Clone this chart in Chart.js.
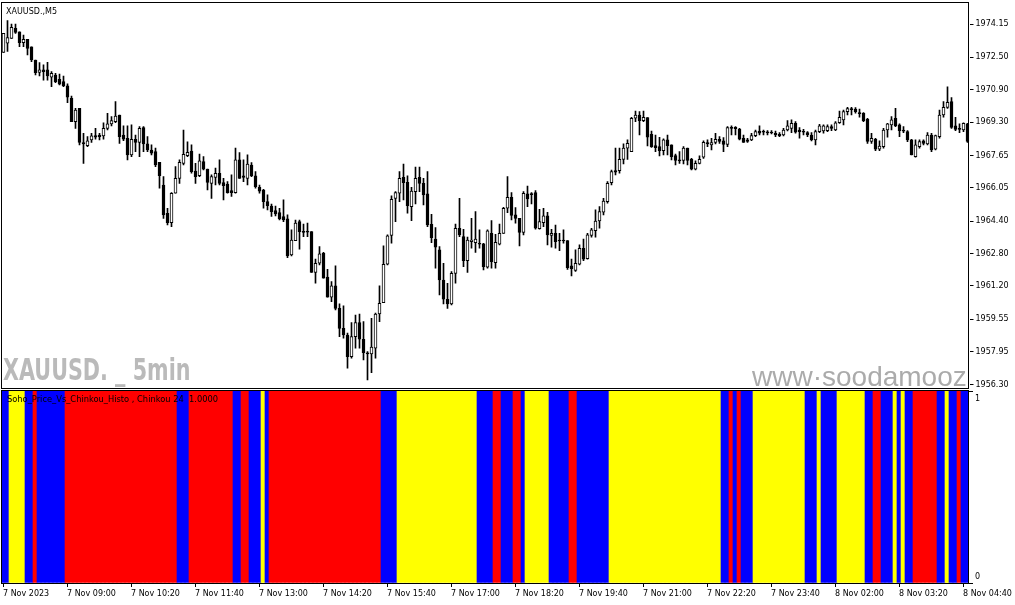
<!DOCTYPE html>
<html>
<head>
<meta charset="utf-8">
<script src="https://cdn.jsdelivr.net/npm/chart.js@4.4.0/dist/chart.umd.min.js"></script>
<style>
  html, body { margin: 0; padding: 0; background: #fff; }
  #wrap { position: relative; width: 1015px; height: 605px; overflow: hidden; background: #fff; }
  #priceChart { position: absolute; left: 0; top: 0; }
  #histoChart { position: absolute; left: 0; top: 389px; }
</style>
</head>
<body>
<div id="wrap">
  <canvas id="priceChart" width="1015" height="390"></canvas>
  <canvas id="histoChart" width="1015" height="216"></canvas>
</div>
<script>
// XAUUSD M5, 7 Nov 07:40 -> 8 Nov 04:45 (242 bars)
const opens = [
  1972.75, 1973.20, 1973.44, 1973.94, 1973.76, 1973.23, 1973.39, 1973.02, 1972.37, 1971.76,
  1971.88, 1971.88, 1971.52, 1971.63, 1971.42, 1971.30, 1971.09, 1970.48, 1969.32, 1969.98,
  1968.29, 1968.14, 1968.42, 1968.63, 1968.66, 1968.62, 1968.99, 1969.21, 1969.32, 1969.65,
  1968.66, 1968.50, 1967.68, 1968.45, 1968.29, 1969.03, 1968.22, 1967.92, 1967.84, 1967.31,
  1966.19, 1964.79, 1964.33, 1965.78, 1966.52, 1967.26, 1967.64, 1967.87, 1966.88, 1966.65,
  1967.35, 1966.98, 1966.27, 1966.57, 1966.77, 1966.31, 1966.24, 1965.91, 1965.81, 1967.43,
  1966.64, 1966.52, 1967.18, 1966.64, 1966.08, 1965.94, 1965.37, 1965.15, 1964.92, 1964.82,
  1964.63, 1964.51, 1962.73, 1963.44, 1964.38, 1963.88, 1963.87, 1963.88, 1961.86, 1962.32,
  1962.81, 1961.63, 1960.64, 1961.20, 1960.09, 1959.10, 1958.77, 1957.70, 1958.69, 1959.38,
  1958.56, 1957.87, 1957.84, 1958.12, 1959.81, 1960.37, 1962.27, 1963.70, 1965.53, 1965.78,
  1966.57, 1966.32, 1965.12, 1965.86, 1966.57, 1966.27, 1965.75, 1964.25, 1963.51, 1962.98,
  1961.49, 1960.54, 1960.31, 1961.82, 1964.05, 1963.64, 1962.45, 1963.39, 1963.34, 1963.31,
  1963.28, 1962.12, 1963.80, 1962.35, 1963.26, 1963.80, 1965.04, 1965.58, 1964.71, 1964.54,
  1963.84, 1965.75, 1965.75, 1965.81, 1964.03, 1964.33, 1964.66, 1963.69, 1963.80, 1963.46,
  1963.47, 1963.44, 1962.19, 1961.96, 1962.27, 1963.06, 1962.55, 1963.69, 1963.93, 1964.41,
  1964.84, 1965.37, 1966.31, 1966.90, 1966.90, 1967.46, 1968.01, 1967.84, 1969.49, 1969.65,
  1969.37, 1969.52, 1968.70, 1968.14, 1968.09, 1967.89, 1968.42, 1968.17, 1967.64, 1967.43,
  1967.40, 1968.01, 1967.46, 1966.97, 1967.26, 1967.56, 1968.29, 1968.17, 1968.29, 1968.45,
  1968.37, 1968.20, 1969.04, 1969.04, 1968.96, 1968.50, 1968.42, 1968.42, 1968.63, 1968.86,
  1968.81, 1968.78, 1968.78, 1968.75, 1968.70, 1968.66, 1968.91, 1968.99, 1969.24, 1968.91,
  1968.81, 1968.78, 1968.66, 1968.42, 1968.83, 1968.86, 1968.88, 1969.08, 1968.91, 1969.27,
  1969.41, 1969.82, 1969.97, 1969.95, 1969.77, 1969.74, 1969.44, 1968.34, 1968.45, 1967.96,
  1968.09, 1968.91, 1969.16, 1969.49, 1969.16, 1968.90, 1968.83, 1968.42, 1967.59, 1968.09,
  1968.38, 1968.22, 1968.66, 1967.96, 1968.58, 1969.65, 1970.03, 1970.31, 1969.11, 1968.97,
  1968.91, 1969.21
];
const highs = [
  1973.69, 1974.32, 1974.15, 1974.15, 1973.76, 1973.61, 1973.39, 1973.02, 1972.37, 1972.24,
  1972.13, 1972.26, 1971.80, 1971.71, 1971.68, 1971.58, 1971.19, 1970.59, 1969.98, 1969.98,
  1968.75, 1968.58, 1968.75, 1968.99, 1968.75, 1969.27, 1969.74, 1969.57, 1970.31, 1969.65,
  1969.11, 1969.11, 1969.16, 1968.66, 1969.08, 1969.08, 1968.58, 1968.17, 1968.01, 1967.31,
  1966.60, 1965.04, 1965.81, 1967.10, 1967.43, 1968.91, 1968.33, 1968.17, 1967.26, 1967.72,
  1967.59, 1966.98, 1966.69, 1967.02, 1967.43, 1966.52, 1966.36, 1966.69, 1968.01, 1967.79,
  1967.43, 1967.68, 1967.30, 1966.85, 1966.19, 1965.98, 1965.70, 1965.25, 1965.15, 1965.04,
  1965.45, 1964.71, 1963.97, 1964.46, 1964.46, 1964.26, 1964.30, 1963.88, 1962.52, 1963.14,
  1962.86, 1962.02, 1961.41, 1962.19, 1960.31, 1960.21, 1958.86, 1959.38, 1959.76, 1959.81,
  1959.43, 1957.95, 1959.60, 1959.85, 1961.20, 1963.18, 1963.72, 1965.65, 1965.86, 1966.85,
  1967.23, 1966.64, 1966.08, 1967.07, 1967.07, 1966.52, 1966.85, 1964.74, 1964.08, 1963.14,
  1962.32, 1961.33, 1961.91, 1964.26, 1965.53, 1964.00, 1963.61, 1964.54, 1964.87, 1963.97,
  1963.31, 1963.97, 1964.43, 1963.75, 1964.26, 1965.09, 1966.60, 1965.81, 1965.07, 1964.54,
  1965.86, 1966.14, 1965.81, 1965.91, 1964.99, 1965.04, 1964.84, 1964.00, 1964.21, 1963.80,
  1963.97, 1963.44, 1962.52, 1962.98, 1963.23, 1963.51, 1963.80, 1964.05, 1964.96, 1965.12,
  1965.53, 1966.36, 1966.93, 1968.01, 1968.01, 1968.22, 1968.42, 1969.54, 1969.85, 1969.82,
  1969.85, 1969.52, 1968.86, 1968.66, 1968.55, 1968.47, 1968.66, 1968.17, 1967.72, 1967.84,
  1968.09, 1968.01, 1967.51, 1967.38, 1967.63, 1968.37, 1968.42, 1968.50, 1968.75, 1968.58,
  1968.53, 1969.08, 1969.11, 1969.08, 1968.99, 1968.66, 1968.50, 1968.75, 1968.91, 1969.11,
  1968.91, 1968.88, 1968.88, 1968.86, 1968.78, 1968.99, 1969.37, 1969.41, 1969.32, 1969.03,
  1968.94, 1968.83, 1968.78, 1968.91, 1969.19, 1969.16, 1969.16, 1969.16, 1969.32, 1969.85,
  1969.90, 1970.03, 1970.03, 1970.02, 1969.95, 1969.77, 1969.49, 1968.75, 1968.50, 1968.38,
  1968.99, 1969.24, 1969.57, 1969.98, 1969.21, 1969.08, 1968.88, 1968.45, 1968.42, 1968.42,
  1968.42, 1968.78, 1968.75, 1968.66, 1969.90, 1970.31, 1971.05, 1970.51, 1969.54, 1969.21,
  1969.27, 1969.24
];
const lows = [
  1972.75, 1972.79, 1973.44, 1973.69, 1973.03, 1973.03, 1972.62, 1972.29, 1971.63, 1971.58,
  1971.38, 1971.38, 1971.05, 1971.25, 1971.14, 1971.05, 1970.26, 1969.32, 1968.99, 1968.17,
  1967.26, 1968.09, 1968.29, 1968.45, 1968.42, 1968.45, 1968.91, 1969.11, 1969.27, 1968.25,
  1968.38, 1967.43, 1967.59, 1967.84, 1967.59, 1967.84, 1967.84, 1967.68, 1967.10, 1966.03,
  1964.54, 1964.21, 1964.13, 1965.78, 1966.27, 1967.18, 1967.59, 1966.77, 1966.27, 1966.60,
  1966.93, 1965.94, 1965.53, 1966.19, 1966.19, 1965.45, 1965.78, 1965.62, 1965.78, 1966.52,
  1966.36, 1966.19, 1966.60, 1966.03, 1965.78, 1965.04, 1964.96, 1964.63, 1964.66, 1964.46,
  1964.38, 1962.60, 1962.68, 1963.44, 1963.01, 1963.64, 1963.64, 1961.86, 1961.33, 1962.24,
  1961.58, 1960.64, 1960.42, 1960.01, 1958.69, 1958.61, 1957.13, 1957.62, 1958.12, 1958.12,
  1957.54, 1956.55, 1956.91, 1957.62, 1959.43, 1960.37, 1962.24, 1963.31, 1964.38, 1965.37,
  1965.45, 1964.79, 1964.43, 1965.25, 1965.86, 1965.20, 1964.13, 1963.34, 1962.07, 1960.75,
  1960.31, 1960.09, 1960.26, 1961.33, 1963.64, 1962.15, 1961.86, 1963.06, 1962.85, 1963.06,
  1961.99, 1962.07, 1962.07, 1962.07, 1963.23, 1963.80, 1964.82, 1964.46, 1964.30, 1963.18,
  1963.72, 1965.12, 1965.25, 1964.00, 1964.00, 1964.13, 1963.23, 1963.11, 1963.06, 1962.94,
  1963.31, 1962.02, 1961.69, 1961.91, 1962.24, 1962.45, 1962.52, 1963.61, 1963.61, 1964.05,
  1964.71, 1965.29, 1966.19, 1966.69, 1966.77, 1967.23, 1967.46, 1967.84, 1969.32, 1968.66,
  1969.32, 1968.12, 1968.05, 1967.84, 1967.63, 1967.68, 1967.68, 1967.43, 1967.18, 1967.26,
  1967.23, 1967.18, 1966.93, 1966.93, 1967.23, 1967.51, 1968.09, 1967.92, 1968.22, 1968.25,
  1967.84, 1968.09, 1968.66, 1968.66, 1968.42, 1968.29, 1968.29, 1968.38, 1968.58, 1968.66,
  1968.66, 1968.66, 1968.71, 1968.58, 1968.58, 1968.62, 1968.86, 1968.78, 1968.75, 1968.50,
  1968.66, 1968.58, 1968.37, 1968.17, 1968.78, 1968.75, 1968.83, 1968.88, 1968.88, 1969.24,
  1969.16, 1969.65, 1969.65, 1969.74, 1969.54, 1969.32, 1968.25, 1968.25, 1967.89, 1967.89,
  1968.01, 1968.55, 1968.91, 1969.08, 1968.58, 1968.78, 1968.33, 1967.68, 1967.56, 1968.01,
  1968.17, 1968.17, 1967.84, 1967.92, 1968.50, 1969.54, 1969.98, 1968.99, 1968.88, 1968.78,
  1968.83, 1968.29
];
const closes = [
  1973.69, 1973.48, 1973.99, 1973.74, 1973.23, 1973.39, 1972.95, 1972.37, 1971.75, 1971.88,
  1971.80, 1971.58, 1971.71, 1971.30, 1971.17, 1971.09, 1970.53, 1969.32, 1969.90, 1968.29,
  1968.22, 1968.38, 1968.62, 1968.55, 1968.58, 1968.99, 1969.21, 1969.37, 1969.60, 1968.58,
  1968.45, 1967.68, 1968.45, 1968.29, 1968.99, 1968.22, 1967.92, 1967.76, 1967.18, 1966.65,
  1964.71, 1964.33, 1965.78, 1966.52, 1967.31, 1967.71, 1967.81, 1966.85, 1966.60, 1967.38,
  1966.97, 1966.32, 1966.60, 1966.77, 1966.27, 1966.16, 1965.81, 1965.81, 1967.43, 1966.52,
  1966.57, 1967.23, 1966.64, 1966.11, 1965.89, 1965.37, 1965.17, 1964.87, 1964.76, 1964.51,
  1964.46, 1962.68, 1963.47, 1964.30, 1963.88, 1963.85, 1963.86, 1961.86, 1962.32, 1962.78,
  1961.58, 1960.64, 1961.20, 1960.09, 1959.10, 1958.77, 1957.70, 1958.69, 1959.38, 1958.56,
  1957.90, 1957.84, 1958.17, 1959.81, 1960.34, 1962.27, 1963.67, 1965.48, 1965.81, 1966.52,
  1966.31, 1965.17, 1965.89, 1966.52, 1966.27, 1965.70, 1964.21, 1963.59, 1963.11, 1961.49,
  1960.54, 1960.31, 1961.82, 1964.05, 1963.72, 1962.45, 1963.47, 1963.47, 1963.51, 1963.26,
  1962.15, 1963.92, 1962.40, 1963.36, 1963.80, 1965.04, 1965.58, 1964.68, 1964.54, 1963.84,
  1965.78, 1965.50, 1965.71, 1964.05, 1964.38, 1964.66, 1963.72, 1963.80, 1963.39, 1963.42,
  1963.42, 1962.10, 1962.05, 1962.32, 1963.06, 1962.52, 1963.72, 1963.97, 1964.41, 1964.87,
  1965.40, 1966.27, 1966.85, 1966.83, 1967.46, 1968.01, 1968.25, 1969.49, 1969.65, 1969.37,
  1969.54, 1968.55, 1968.09, 1968.04, 1967.89, 1968.42, 1968.14, 1967.59, 1967.40, 1967.38,
  1968.01, 1967.40, 1966.97, 1967.26, 1967.46, 1968.30, 1968.22, 1968.29, 1968.45, 1968.34,
  1968.20, 1969.03, 1968.99, 1968.98, 1968.45, 1968.29, 1968.35, 1968.63, 1968.83, 1968.75,
  1968.80, 1968.77, 1968.76, 1968.66, 1968.62, 1968.91, 1969.11, 1969.24, 1968.80, 1968.83,
  1968.80, 1968.66, 1968.42, 1968.83, 1969.11, 1969.11, 1969.08, 1968.99, 1969.27, 1969.54,
  1969.82, 1969.97, 1969.92, 1969.82, 1969.72, 1969.37, 1968.34, 1968.50, 1967.96, 1968.12,
  1968.91, 1969.21, 1969.41, 1969.11, 1968.88, 1968.85, 1968.42, 1967.68, 1968.17, 1968.34,
  1968.25, 1968.66, 1967.92, 1968.63, 1969.65, 1970.03, 1970.28, 1969.04, 1968.94, 1968.94,
  1969.24, 1968.34
];

const priceTicks = ['1974.15', '1972.50', '1970.90', '1969.30', '1967.65', '1966.05',
                    '1964.40', '1962.80', '1961.20', '1959.55', '1957.95', '1956.30'];
const timeTicks = ['7 Nov 2023', '7 Nov 09:00', '7 Nov 10:20', '7 Nov 11:40', '7 Nov 13:00',
                   '7 Nov 14:20', '7 Nov 15:40', '7 Nov 17:00', '7 Nov 18:20', '7 Nov 19:40',
                   '7 Nov 21:00', '7 Nov 22:20', '7 Nov 23:40', '8 Nov 02:00', '8 Nov 03:20',
                   '8 Nov 04:40'];

// histogram state per bar, as runs: R = red, B = blue, Y = yellow
const histoRuns = [
  ['B', 2], ['Y', 4], ['B', 2], ['R', 1], ['B', 7], ['R', 28], ['B', 3], ['R', 11], ['B', 2], ['R', 2],
  ['B', 3], ['Y', 1], ['B', 1], ['R', 28], ['B', 4], ['Y', 20], ['B', 4], ['R', 2], ['B', 3], ['R', 2],
  ['B', 1], ['Y', 6], ['B', 5], ['R', 2], ['B', 8], ['Y', 28], ['B', 2], ['R', 1], ['B', 1], ['R', 1],
  ['B', 3], ['Y', 13], ['B', 3], ['Y', 1], ['B', 4], ['Y', 7], ['B', 2], ['R', 2], ['B', 3], ['Y', 1],
  ['B', 1], ['Y', 1], ['B', 2], ['R', 6], ['B', 2], ['Y', 1], ['B', 2], ['R', 1], ['B', 2]
];
const histoColors = { R: '#ff0000', B: '#0000ff', Y: '#ffff00' };

const FONT = 'DejaVu Sans';
const barIdx = opens.map((_, i) => i);

// 🕯️ candles = wick bar (low..high) + body bar (open..close)
const priceDecor = {
  id: 'priceDecor',
  beforeDatasetsDraw(chart) {
    const { ctx, chartArea: a } = chart;
    ctx.save();
    ctx.beginPath();
    ctx.rect(a.left, a.top, a.right - a.left - 1.5, a.bottom - a.top);
    ctx.clip();
    ctx.fillStyle = '#bababa';
    ctx.font = 'bold 30px "' + FONT + '"';
    ctx.textBaseline = 'alphabetic';
    ctx.save();
    ctx.translate(3, 380);
    ctx.scale(0.69, 1);
    ctx.fillText('XAUUSD. _ 5min', 0, 0);
    ctx.restore();
    ctx.fillStyle = '#ababab';
    ctx.font = '28px "Liberation Sans"';
    ctx.fillText('www·soodamooz·com', 752, 386);
    ctx.restore();
  },
  afterDraw(chart) {
    const { ctx } = chart;
    ctx.save();
    ctx.strokeStyle = '#000';
    ctx.lineWidth = 1;
    ctx.strokeRect(1.5, 2.5, 967, 386);
    ctx.fillStyle = '#000';
    ctx.font = '8px "' + FONT + '"';
    ctx.textBaseline = 'alphabetic';
    ctx.fillText('XAUUSD.,M5', 6, 14);
    ctx.restore();
  }
};

new Chart(document.getElementById('priceChart'), {
  type: 'bar',
  data: {
    labels: barIdx,
    datasets: [
      {
        data: lows.map((l, i) => [l, highs[i]]),
        backgroundColor: '#000',
        borderWidth: 0,
        barThickness: 1,
        grouped: false,
        order: 2
      },
      {
        data: opens.map((o, i) => [o, closes[i]]),
        backgroundColor: opens.map((o, i) => (closes[i] >= o ? '#ffffff' : '#000000')),
        borderColor: '#000',
        borderWidth: 1,
        borderSkipped: false,
        barThickness: 3,
        minBarLength: 1,
        grouped: false,
        order: 1
      }
    ]
  },
  options: {
    responsive: false,
    animation: false,
    devicePixelRatio: 1,
    layout: { padding: { left: 1.5, top: 2, right: 0, bottom: 1 } },
    plugins: { legend: { display: false }, tooltip: { enabled: false } },
    scales: {
      x: { type: 'category', display: false, offset: true },
      y: {
        position: 'right',
        min: 1956.10,
        max: 1975.24,
        afterBuildTicks: (s) => { s.ticks = priceTicks.map((t) => ({ value: parseFloat(t) })); },
        afterFit: (s) => { s.width = 45.5; s.paddingTop = 0; s.paddingBottom = 0; },
        grid: { drawOnChartArea: false, drawTicks: true, tickLength: 4, tickColor: '#000' },
        border: { display: false },
        ticks: {
          autoSkip: false,
          color: '#000',
          padding: 2,
          font: { family: FONT, size: 8 },
          callback: (v, i) => priceTicks[i]
        }
      }
    }
  },
  plugins: [priceDecor]
});

// 📊 lower histogram
const histoCodes = [];
histoRuns.forEach(([c, n]) => { for (let k = 0; k < n; k++) histoCodes.push(c); });

const histoDecor = {
  id: 'histoDecor',
  afterDraw(chart) {
    const { ctx } = chart;
    const y = chart.scales.y;
    ctx.save();
    ctx.strokeStyle = '#000';
    ctx.lineWidth = 1;
    ctx.strokeRect(1.5, 1.5, 967, 193);
    ctx.fillStyle = '#000';
    ctx.textBaseline = 'middle';
    ctx.font = '8.3px "' + FONT + '"';
    ctx.fillText('Soho_Price_Vs_Chinkou_Histo , Chinkou 24  1.0000', 7, 11);
    ctx.font = '8px "' + FONT + '"';
    ctx.fillText('1', 975, y.getPixelForValue(1) + 8);
    ctx.fillText('0', 975, y.getPixelForValue(0) - 6);
    ctx.restore();
  }
};

new Chart(document.getElementById('histoChart'), {
  type: 'bar',
  data: {
    labels: barIdx,
    datasets: [{
      data: histoCodes.map(() => 1),
      backgroundColor: histoCodes.map((c) => histoColors[c]),
      borderWidth: 0,
      barPercentage: 1,
      categoryPercentage: 1
    }]
  },
  options: {
    responsive: false,
    animation: false,
    devicePixelRatio: 1,
    layout: { padding: { left: 1, top: 2, right: 0, bottom: 0 } },
    plugins: { legend: { display: false }, tooltip: { enabled: false } },
    scales: {
      x: {
        type: 'category',
        offset: true,
        afterBuildTicks: (s) => { s.ticks = s.ticks.filter((t) => t.value % 16 === 0); },
        afterFit: (s) => { s.height = 22; s.paddingLeft = 0; s.paddingRight = 0; },
        grid: { offset: false, drawOnChartArea: false, drawTicks: true, tickLength: 4, tickColor: '#000' },
        border: { display: false },
        ticks: {
          autoSkip: false,
          maxRotation: 0,
          minRotation: 0,
          align: 'start',
          padding: 2,
          color: '#000',
          font: { family: FONT, size: 8 },
          callback: (v) => timeTicks[v / 16]
        }
      },
      y: {
        position: 'right',
        min: 0,
        max: 1,
        afterBuildTicks: (s) => { s.ticks = [{ value: 0 }, { value: 1 }]; },
        afterFit: (s) => { s.width = 46; s.paddingTop = 0; s.paddingBottom = 0; },
        grid: { drawOnChartArea: false, drawTicks: true, tickLength: 4, tickColor: '#000' },
        border: { display: false },
        ticks: { display: false }
      }
    }
  },
  plugins: [histoDecor]
});
</script>
</body>
</html>
